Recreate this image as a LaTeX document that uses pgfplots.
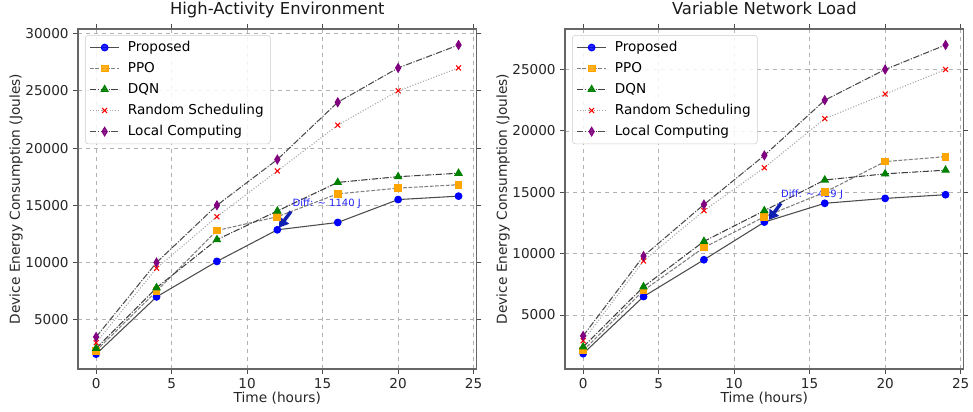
\documentclass[border=0pt]{standalone}
\usepackage{fontspec}
\setmainfont{DejaVu Sans}
\usepackage{pgfplots}
\pgfplotsset{compat=1.18}
\usetikzlibrary{arrows.meta}

\definecolor{mplorange}{HTML}{FFA500}
\definecolor{mplgreen}{HTML}{008000}
\definecolor{mplpurple}{HTML}{800080}
\definecolor{arrowblue}{HTML}{1020B0}

% left panel
\pgfplotstableread{
t  prop   ppo    dqn    rnd    loc
0  2000   2300   2500   3000   3500
4  7000   7500   7800   9500   10000
8  10100  12800  12000  14000  15000
12 12860  14000  14500  18000  19000
16 13500  16000  17000  22000  24000
20 15500  16500  17500  25000  27000
24 15800  16800  17800  27000  29000
}\highact

% right panel
\pgfplotstableread{
t  prop   ppo    dqn    rnd    loc
0  1850   2100   2400   2900   3300
4  6500   7000   7300   9400   9800
8  9500   10500  11000  13500  14000
12 12570  13000  13500  17000  18000
16 14100  15000  16000  21000  22500
20 14500  17500  16500  23000  25000
24 14800  17900  16800  25000  27000
}\varload

\tikzset{diffarrow/.style={-{Triangle[length=7pt, width=8.5pt]}, line width=2.6pt, arrowblue}}

\pgfplotsset{
  panel/.style={
    scale only axis,
    width=299pt, height=255pt,
    xmin=-1.2, xmax=25.2,
    xtick={0,5,...,25},
    tick align=outside,
    major tick length=3.5pt,
    tick style={black!70, line width=0.6pt},
    axis line style={black!60, line width=1.1pt},
    grid=major,
    major grid style={dashed, black!30, line width=0.5pt},
    scaled y ticks=false,
    /pgf/number format/fixed,
    /pgf/number format/1000 sep={},
    /pgf/number format/assume math mode=true,
    tick label style={font=\fontsize{10.2}{12}\selectfont, text=black!85},
    label style={font=\fontsize{10.3}{12}\selectfont, text=black!85},
    xlabel style={at={([yshift=-21.75pt]axis description cs:0.5,0)}, anchor=center},
    ylabel style={at={([xshift=-46.5pt]axis description cs:0,0.5)}, anchor=center},
    title style={font=\fontsize{12.3}{14}\selectfont, text=black!90,
      at={(0.5,1)}, anchor=base, yshift=5pt},
    xlabel={Time (hours)},
    ylabel={Device Energy Consumption (Joules)},
    legend style={at={(0.018,0.982)}, anchor=north west,
      draw=black!20, rounded corners=2pt, fill=white, fill opacity=0.85,
      text opacity=1, font=\fontsize{10.2}{12}\selectfont,
      inner xsep=3pt, inner ysep=2.5pt, row sep=2.6pt},
    legend cell align=left,
    legend image code/.code={
      \draw[#1, mark repeat=2, mark phase=2] plot coordinates {(0pt,0pt) (11pt,0pt) (22pt,0pt)};
      \path (26pt,0pt);
    },
  },
  sprop/.style={black!70, line width=0.8pt, mark=*, mark size=2.5pt,
    mark options={solid, fill=blue, draw=blue}},
  sppo/.style={black!50, line width=0.8pt, dash pattern=on 2.8pt off 1.2pt,
    mark=square*, mark size=2.5pt, mark options={solid, fill=mplorange, draw=mplorange}},
  sdqn/.style={black!75, line width=0.8pt, dash pattern=on 4.8pt off 1.2pt on 0.8pt off 1.2pt,
    mark=triangle*, mark size=3pt, mark options={solid, fill=mplgreen, draw=mplgreen}},
  srnd/.style={black!35, line width=0.8pt, dash pattern=on 0.8pt off 1.3pt,
    mark=x, mark size=2.6pt, mark options={solid, draw=red, line width=0.8pt}},
  sloc/.style={black!70, line width=0.8pt, dash pattern=on 4.8pt off 1.2pt on 0.8pt off 1.2pt,
    mark=diamond*, mark size=3.2pt, mark options={solid, fill=mplpurple, draw=mplpurple, xscale=0.8}},
}

\begin{document}
\begin{tikzpicture}
\useasboundingbox (0pt,0pt) rectangle (729.75pt,308.25pt);

\begin{axis}[panel, at={(58.5pt,31.5pt)}, anchor=south west,
  title={High-Activity Environment},
  ymin=700, ymax=30400,
  ytick={5000,10000,...,30000}]
  \addplot[sprop] table[x=t, y=prop] {\highact};
  \addlegendentry{Proposed}
  \addplot[sppo] table[x=t, y=ppo] {\highact};
  \addlegendentry{PPO}
  \addplot[sdqn] table[x=t, y=dqn] {\highact};
  \addlegendentry{DQN}
  \addplot[srnd] table[x=t, y=rnd] {\highact};
  \addlegendentry{Random Scheduling}
  \addplot[sloc] table[x=t, y=loc] {\highact};
  \addlegendentry{Local Computing}
  \draw[diffarrow] (axis cs:12.9,14450) -- (axis cs:12.1,13050);
  \node[anchor=base west, inner sep=0pt, text=blue!85,
    font=\fontsize{7.5}{9}\selectfont] at (axis cs:13,14860) {Diff: \textasciitilde{} 1140 J};
\end{axis}

\begin{axis}[panel, at={(423.75pt,31.5pt)}, anchor=south west,
  title={Variable Network Load},
  ymin=600, ymax=28300,
  ytick={5000,10000,...,25000}]
  \addplot[sprop] table[x=t, y=prop] {\varload};
  \addlegendentry{Proposed}
  \addplot[sppo] table[x=t, y=ppo] {\varload};
  \addlegendentry{PPO}
  \addplot[sdqn] table[x=t, y=dqn] {\varload};
  \addlegendentry{DQN}
  \addplot[srnd] table[x=t, y=rnd] {\varload};
  \addlegendentry{Random Scheduling}
  \addplot[sloc] table[x=t, y=loc] {\varload};
  \addlegendentry{Local Computing}
  \draw[diffarrow] (axis cs:13.1,14100) -- (axis cs:12.3,12750);
  \node[anchor=base west, inner sep=0pt, text=blue!85,
    font=\fontsize{7.5}{9}\selectfont] at (axis cs:13.1,14570) {Diff: \textasciitilde{} 429 J};
\end{axis}
\end{tikzpicture}
\end{document}
